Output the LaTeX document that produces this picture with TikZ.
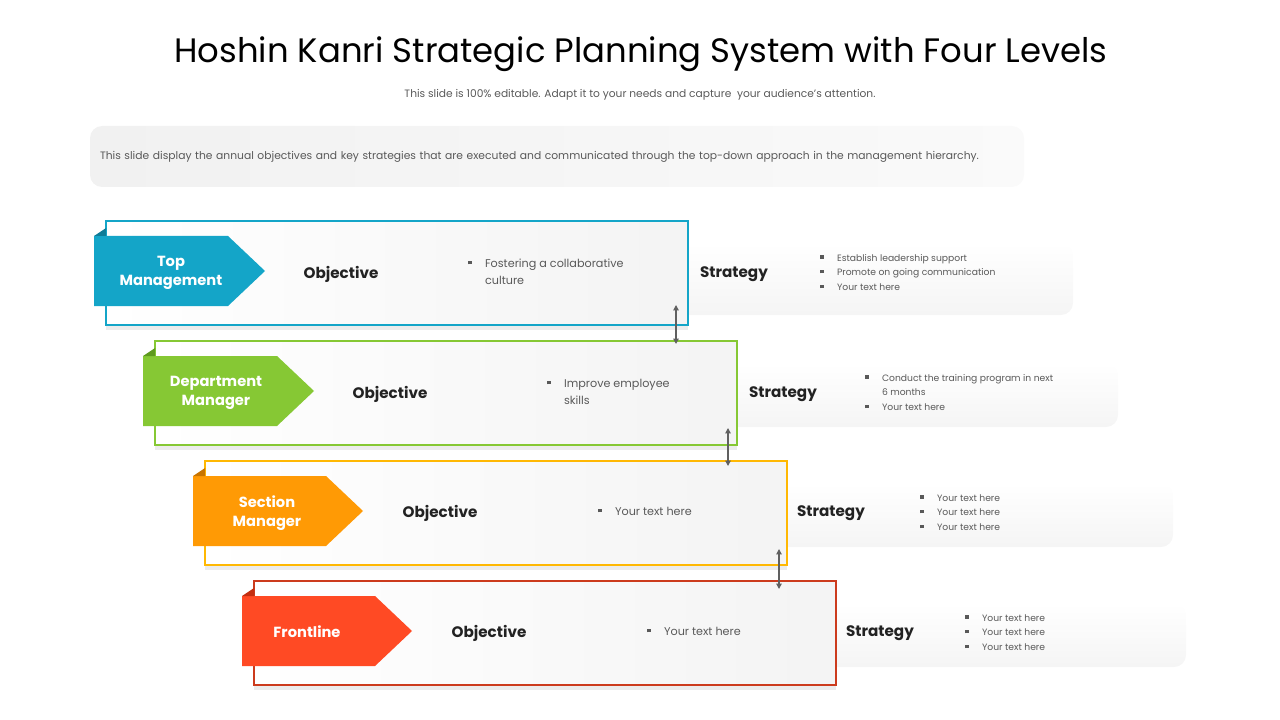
\documentclass[tikz,border=0pt]{standalone}
\usepackage{fontspec}
\setmainfont{Poppins}
\usetikzlibrary{shadows,arrows.meta}

\definecolor{topcol}{HTML}{14A5C8}
\definecolor{topdark}{HTML}{0E7C98}
\definecolor{deptcol}{HTML}{86C834}
\definecolor{deptdark}{HTML}{5E9A1E}
\definecolor{seccol}{HTML}{FF9A05}
\definecolor{secdark}{HTML}{C87400}
\definecolor{frontcol}{HTML}{FF4A24}
\definecolor{frontdark}{HTML}{C42E10}
\definecolor{bodytext}{HTML}{595959}
\definecolor{headtext}{HTML}{222222}

\newcommand{\sqb}{\rule[0.28em]{2.6pt}{2.6pt}}
\def\px{0.75pt}

\begin{document}
\begin{tikzpicture}[
    x=0.75pt, y=-0.75pt,
    level box/.style={draw, line width=0.8pt, left color=white, right color=gray!9,
        minimum width=582*\px, minimum height=104*\px,
        drop shadow={opacity=0.15, shadow xshift=0pt, shadow yshift=-4pt}},
    strategy strip/.style={top color=white, bottom color=gray!8, rounded corners=9pt},
    tag text/.style={white, font=\fontsize{11}{14.5}\selectfont\bfseries, align=center},
    heading/.style={text=headtext, font=\fontsize{11.4}{14}\selectfont\bfseries},
    item/.style={text=bodytext, font=\fontsize{8.4}{12.75}\selectfont, anchor=west, inner sep=0pt},
    small item/.style={text=bodytext, font=\fontsize{6.9}{11.1}\selectfont, anchor=west, inner sep=0pt},
    link/.style={{Triangle[width=4pt,length=4pt]}-{Triangle[width=4pt,length=4pt]}, gray!75!black, line width=0.9pt}
]
    \useasboundingbox (0,0) rectangle (1280,720);

    % Title and intro
    \node (title) at (641,54) {\fontsize{25.4}{30}\selectfont Hoshin Kanri Strategic Planning System with Four Levels};
    \node (subtitle) at (640,95) {\fontsize{8}{10}\selectfont\color{bodytext} This slide is 100\% editable. Adapt it to your needs and capture\ \ your audience's attention.};
    \node (desc) [left color=gray!11, right color=gray!4, rounded corners=9pt, minimum width=926*\px, minimum height=61*\px,
        text width=914*\px, align=left, inner xsep=7.5pt, text=bodytext,
        font=\fontsize{8.05}{10}\selectfont] at (557,156.5)
        {This slide display the annual objectives and key strategies that are executed and communicated through the top-down approach in the management hierarchy.};

    % Strategy strips (behind the boxes)
    \shade[strategy strip] (600,243) rectangle (1073,315);
    \shade[strategy strip] (650,363) rectangle (1118,427);
    \shade[strategy strip] (700,483) rectangle (1173,547);
    \shade[strategy strip] (750,603) rectangle (1186,667);

    % Level 1
    \node (box1) [level box, draw=topcol] at (397,273) {};
    \fill[topcol] (94,236) -- (228,236) -- (265,271) -- (228,306) -- (94,306) -- cycle;
    \fill[topdark] (94,236) -- (106,228) -- (106,236) -- cycle;
    \node (top) [tag text] at (171,273) {Top\\Management};
    \node (obj1) [heading] at (341,274) {Objective};
    \node (objitems1) [item] at (468,272.5) {\begin{tabular}{@{}l@{\hspace{10pt}}l@{}}\sqb & Fostering a collaborative\\ & culture\end{tabular}};
    \node (strat1) [heading] at (734,274) {Strategy};
    \node (stratitems1) [small item] at (820,273) {\begin{tabular}{@{}l@{\hspace{10pt}}l@{}}\sqb & Establish leadership support\\ \sqb & Promote on going\ communication\\ \sqb & Your text here\end{tabular}};

    % Level 2
    \node (box2) [level box, draw=deptcol] at (446,393) {};
    \fill[deptcol] (143,356) -- (277,356) -- (314,391) -- (277,426) -- (143,426) -- cycle;
    \fill[deptdark] (143,356) -- (155,348) -- (155,356) -- cycle;
    \node (dept) [tag text] at (216,393) {Department\\Manager};
    \node (obj2) [heading] at (390,394) {Objective};
    \node (objitems2) [item] at (547,392.5) {\begin{tabular}{@{}l@{\hspace{10pt}}l@{}}\sqb & Improve employee\\ & skills\end{tabular}};
    \node (strat2) [heading] at (783,394) {Strategy};
    \node (stratitems2) [small item] at (865,393) {\begin{tabular}{@{}l@{\hspace{10pt}}l@{}}\sqb & Conduct the training program in next\\ & 6 months\\ \sqb & Your text here\end{tabular}};

    % Level 3
    \node (box3) [level box, draw=seccol!70!yellow] at (496,513) {};
    \fill[seccol] (193,476) -- (326,476) -- (363,511) -- (326,546) -- (193,546) -- cycle;
    \fill[secdark] (193,476) -- (205,468) -- (205,476) -- cycle;
    \node (sect) [tag text] at (267,513) {Section\\Manager};
    \node (obj3) [heading] at (440,513) {Objective};
    \node (objitems3) [item] at (598,512) {\begin{tabular}{@{}l@{\hspace{10pt}}l@{}}\sqb & Your text here\end{tabular}};
    \node (strat3) [heading] at (831,513) {Strategy};
    \node (stratitems3) [small item] at (920,513) {\begin{tabular}{@{}l@{\hspace{10pt}}l@{}}\sqb & Your text here\\ \sqb & Your text here\\ \sqb & Your text here\end{tabular}};

    % Level 4
    \node (box4) [level box, draw=frontcol!80!black] at (545,633) {};
    \fill[frontcol] (242,596) -- (375,596) -- (412,631) -- (375,666) -- (242,666) -- cycle;
    \fill[frontdark] (242,596) -- (254,588) -- (254,596) -- cycle;
    \node (front) [tag text] at (307,632) {Frontline};
    \node (obj4) [heading] at (489,633) {Objective};
    \node (objitems4) [item] at (647,632) {\begin{tabular}{@{}l@{\hspace{10pt}}l@{}}\sqb & Your text here\end{tabular}};
    \node (strat4) [heading] at (880,633) {Strategy};
    \node (stratitems4) [small item] at (965,633) {\begin{tabular}{@{}l@{\hspace{10pt}}l@{}}\sqb & Your text here\\ \sqb & Your text here\\ \sqb & Your text here\end{tabular}};

    % Links between levels
    \coordinate (up1) at (676,305);   \coordinate (down1) at (676,344);
    \coordinate (up2) at (728,428);   \coordinate (down2) at (728,466);
    \coordinate (up3) at (779,549);   \coordinate (down3) at (779,589);
    \draw[link] (up1) -- (down1);
    \draw[link] (up2) -- (down2);
    \draw[link] (up3) -- (down3);
\end{tikzpicture}
\end{document}
